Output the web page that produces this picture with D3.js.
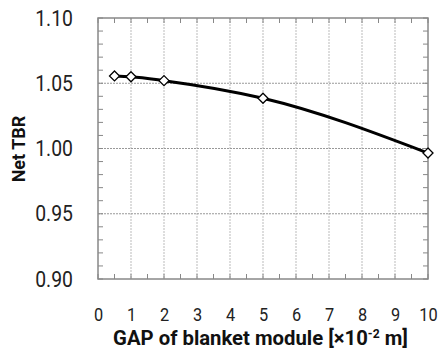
<!DOCTYPE html>
<html lang="en">
<head>
<meta charset="UTF-8">
<title>Net TBR vs GAP</title>
<script src="https://d3js.org/d3.v7.min.js"></script>
<style>
    body { margin: 0; background: white; }
    svg { display: block; }
    .tick text { font-family: Roboto, sans-serif; fill: #222; }
    .xAxis .tick text { font-size: 19px; }
    .yAxis .tick text { font-size: 22px; }
    .title { font-family: Roboto, sans-serif; font-weight: bold; fill: #111; }
</style>
</head>
<body>
<svg width="439" height="358"></svg>
<script>
    // data
    let gap = [0.5, 1, 2, 5, 10];
    let tbr = [1.0556, 1.055, 1.052, 1.0385, 0.9965];
    let xTicks = [0, 1, 2, 3, 4, 5, 6, 7, 8, 9, 10];
    let yTicks = [0.90, 0.95, 1.00, 1.05, 1.10];

    let svg = d3.select('svg');
    let W = 439, H = 358;
    let margins = {left: 98, right: 11, top: 18, bottom: 79};

    let xScale = d3.scaleLinear().domain([0, 10]).range([margins.left, W - margins.right]);
    let yScale = d3.scaleLinear().domain([0.90, 1.10]).range([H - margins.bottom, margins.top]);

    // gridlines (dotted)
    svg.append('g').selectAll('line')
        .data(xTicks.slice(1, -1))
        .enter().append('line')
        .attr('x1', d => xScale(d)).attr('x2', d => xScale(d))
        .attr('y1', margins.top).attr('y2', H - margins.bottom)
        .attr('stroke', '#bbb').attr('stroke-width', 1).attr('stroke-dasharray', '2,1');
    svg.append('g').selectAll('line')
        .data(yTicks.slice(1, -1))
        .enter().append('line')
        .attr('x1', margins.left).attr('x2', W - margins.right)
        .attr('y1', d => yScale(d)).attr('y2', d => yScale(d))
        .attr('stroke', '#999').attr('stroke-width', 1).attr('stroke-dasharray', '2,1');

    // minor ticks, inward, on all four sides
    let minorX = d3.range(0, 10.01, 0.5);
    let minorY = d3.range(0.90, 1.1001, 0.01);
    let axisCol = '#888';
    let tk = svg.append('g').attr('stroke', axisCol).attr('stroke-width', 1);
    minorX.forEach(function (v) {
        tk.append('line').attr('x1', xScale(v)).attr('x2', xScale(v))
            .attr('y1', H - margins.bottom).attr('y2', H - margins.bottom - 5);
        tk.append('line').attr('x1', xScale(v)).attr('x2', xScale(v))
            .attr('y1', margins.top).attr('y2', margins.top + 5);
    });
    minorY.forEach(function (v) {
        tk.append('line').attr('x1', margins.left).attr('x2', margins.left + 5)
            .attr('y1', yScale(v)).attr('y2', yScale(v));
        tk.append('line').attr('x1', W - margins.right).attr('x2', W - margins.right - 5)
            .attr('y1', yScale(v)).attr('y2', yScale(v));
    });

    // frame
    svg.append('rect')
        .attr('x', margins.left).attr('y', margins.top)
        .attr('width', W - margins.left - margins.right)
        .attr('height', H - margins.top - margins.bottom)
        .attr('fill', 'none').attr('stroke', axisCol).attr('stroke-width', 1.5);

    // axes (labels only), text squeezed sideways to look like the narrow original font
    let xAxis = svg.append('g')
        .attr('class', 'xAxis')
        .attr('transform', 'translate(0,' + (H - margins.bottom) + ')')
        .call(d3.axisBottom(xScale).tickValues(xTicks).tickFormat(d3.format('d')).tickSize(0).tickPadding(28.5));
    xAxis.select('.domain').remove();
    xAxis.selectAll('text').attr('transform', 'scale(0.86,1)');

    let yAxis = svg.append('g')
        .attr('class', 'yAxis')
        .attr('transform', 'translate(' + margins.left + ',0)')
        .call(d3.axisLeft(yScale).tickValues(yTicks).tickFormat(d3.format('.2f')).tickSize(0).tickPadding(28.5));
    yAxis.select('.domain').remove();
    yAxis.selectAll('text').attr('transform', 'scale(0.88,1)');

    // line
    let line = d3.line()
        .x((d, i) => xScale(gap[i]))
        .y(d => yScale(d))
        .curve(d3.curveMonotoneX);
    svg.append('path')
        .datum(tbr)
        .attr('d', line)
        .attr('fill', 'none').attr('stroke', 'black').attr('stroke-width', 3);

    // diamond markers
    svg.append('g').selectAll('path')
        .data(tbr)
        .enter().append('path')
        .attr('transform', (d, i) => 'translate(' + xScale(gap[i]) + ',' + yScale(d) + ')')
        .attr('d', 'M0,-5L5,0L0,5L-5,0Z')
        .attr('fill', 'white').attr('stroke', 'black').attr('stroke-width', 1.3);

    // axis titles
    let xt = svg.append('text')
        .attr('class', 'title')
        .attr('text-anchor', 'middle')
        .style('font-size', '20px');
    xt.append('tspan').text('GAP of blanket module [\u00d710');
    xt.append('tspan').attr('dy', -7).style('font-size', '12px').text('-2');
    xt.append('tspan').attr('dy', 7).text(' m]');
    // squeeze/stretch so it spans the same width as in the picture
    let xtLen = xt.node().getComputedTextLength();
    let xtScale = 295 / xtLen;
    xt.attr('transform', 'translate(260.5,345) scale(' + xtScale + ',1)');

    svg.append('text')
        .attr('class', 'title')
        .attr('transform', 'translate(25,149) rotate(-90)')
        .attr('text-anchor', 'middle')
        .style('font-size', '18px')
        .text('Net TBR');
</script>
</body>
</html>
